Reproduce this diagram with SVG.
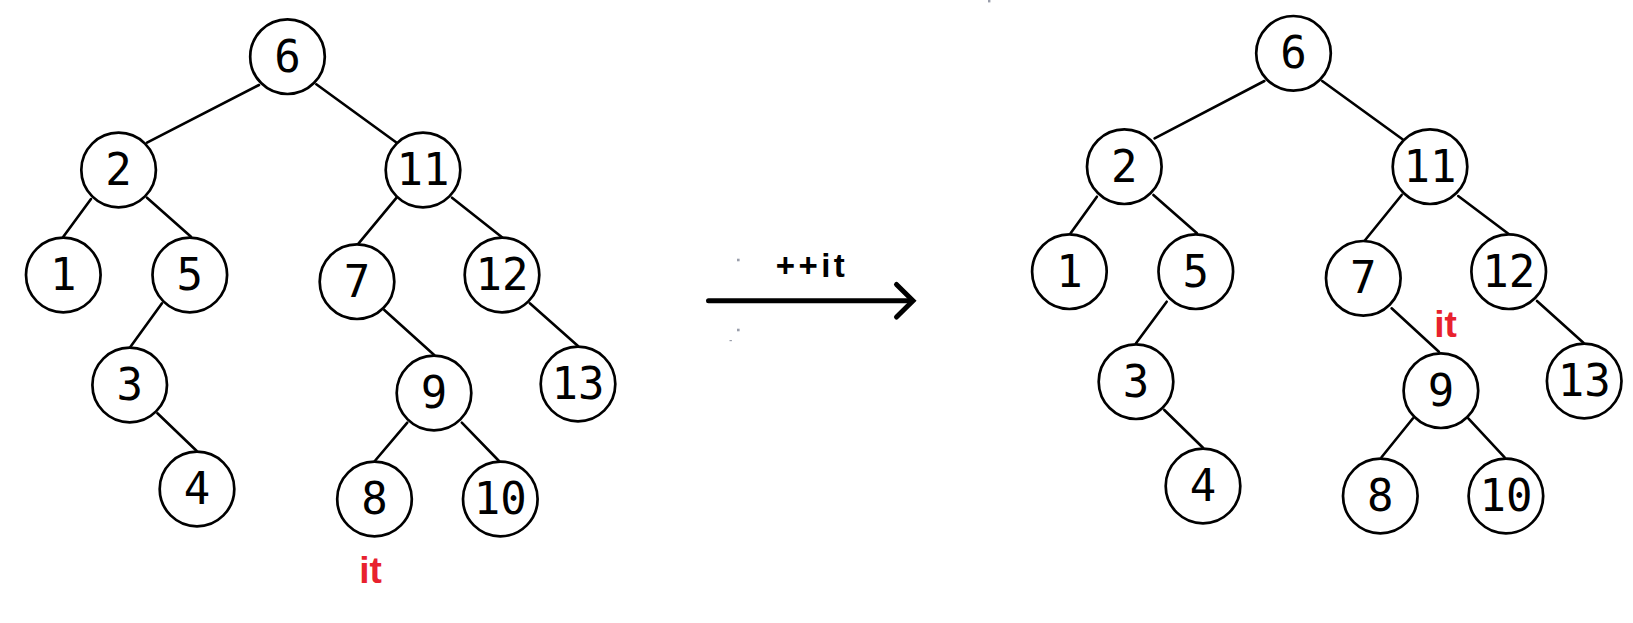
<svg xmlns="http://www.w3.org/2000/svg" width="1633" height="623" viewBox="0 0 1633 623">
<style>
.n circle{fill:#fff;stroke:#000;stroke-width:2.7}
.n text{font-family:"DejaVu Sans Mono","Liberation Mono",monospace;font-size:44px;text-anchor:middle;fill:#000}
.e line{stroke:#000;stroke-width:2.6;stroke-linecap:round}
.it{font-family:"Liberation Sans","DejaVu Sans",sans-serif;font-weight:bold;font-size:37px;fill:#e8212e;text-anchor:middle}
.dot{fill:#9a9eab}
</style>
<rect width="1633" height="623" fill="#fff"/>
<g id="connectors" class="e">
<!-- left tree -->
<line x1="259" y1="85" x2="147" y2="142.7"/>
<line x1="316.3" y1="84.3" x2="397.4" y2="143.3"/>
<line x1="91" y1="199" x2="63.3" y2="236.7"/>
<line x1="147" y1="197.7" x2="191" y2="236.7"/>
<line x1="396.6" y1="197.7" x2="357.8" y2="244.3"/>
<line x1="452" y1="197.7" x2="502" y2="237.3"/>
<line x1="162" y1="303.3" x2="130.5" y2="346.7"/>
<line x1="384.3" y1="310" x2="434.2" y2="355"/>
<line x1="529.8" y1="303.3" x2="578" y2="346"/>
<line x1="157.4" y1="413.3" x2="196.5" y2="450.7"/>
<line x1="407.3" y1="422.7" x2="374.8" y2="461"/>
<line x1="461.8" y1="422.7" x2="499" y2="461"/>
<!-- right tree -->
<line x1="1264.4" y1="81" x2="1154.6" y2="138.3"/>
<line x1="1322.2" y1="81" x2="1402.5" y2="139.3"/>
<line x1="1096.9" y1="196.7" x2="1070.6" y2="233.3"/>
<line x1="1153.4" y1="195" x2="1197" y2="233.3"/>
<line x1="1401.7" y1="195" x2="1364.6" y2="240.7"/>
<line x1="1458.2" y1="196" x2="1508.7" y2="234"/>
<line x1="1166.7" y1="301.7" x2="1136" y2="343.3"/>
<line x1="1391.6" y1="308.3" x2="1438.9" y2="351.7"/>
<line x1="1537" y1="301" x2="1583.4" y2="342.7"/>
<line x1="1164.3" y1="410" x2="1203" y2="447.7"/>
<line x1="1413" y1="418.3" x2="1381.5" y2="457.3"/>
<line x1="1468.3" y1="418.3" x2="1504.6" y2="457.3"/>
</g>
<g id="L6" class="n"><circle cx="287.5" cy="56.7" r="37.3"/><text x="287.5" y="71.7">6</text></g>
<g id="L2" class="n"><circle cx="118.6" cy="170" r="37.3"/><text x="118.6" y="185">2</text></g>
<g id="L11" class="n"><circle cx="423" cy="170" r="37.3"/><text x="423" y="185">11</text></g>
<g id="L1" class="n"><circle cx="63.3" cy="275" r="37.3"/><text x="63.3" y="290">1</text></g>
<g id="L5" class="n"><circle cx="189.8" cy="275" r="37.3"/><text x="189.8" y="290">5</text></g>
<g id="L7" class="n"><circle cx="357" cy="281.7" r="37.3"/><text x="357" y="296.7">7</text></g>
<g id="L12" class="n"><circle cx="502" cy="275" r="37.3"/><text x="502" y="290">12</text></g>
<g id="L3" class="n"><circle cx="129.7" cy="385" r="37.3"/><text x="129.7" y="400">3</text></g>
<g id="L4" class="n"><circle cx="197" cy="489" r="37.3"/><text x="197" y="504">4</text></g>
<g id="L9" class="n"><circle cx="434" cy="393" r="37.3"/><text x="434" y="408">9</text></g>
<g id="L13" class="n"><circle cx="578" cy="384" r="37.3"/><text x="578" y="399">13</text></g>
<g id="L8" class="n"><circle cx="374.5" cy="499" r="37.3"/><text x="374.5" y="514">8</text></g>
<g id="L10" class="n"><circle cx="500.3" cy="499" r="37.3"/><text x="500.3" y="514">10</text></g>
<text id="it-left" class="it" x="370.5" y="583">it</text>

<g id="R6" class="n"><circle cx="1293.5" cy="53.3" r="37.3"/><text x="1293.5" y="68.3">6</text></g>
<g id="R2" class="n"><circle cx="1124.3" cy="166.7" r="37.3"/><text x="1124.3" y="181.7">2</text></g>
<g id="R11" class="n"><circle cx="1430" cy="166.7" r="37.3"/><text x="1430" y="181.7">11</text></g>
<g id="R1" class="n"><circle cx="1069.4" cy="271.7" r="37.3"/><text x="1069.4" y="286.7">1</text></g>
<g id="R5" class="n"><circle cx="1195.8" cy="271.7" r="37.3"/><text x="1195.8" y="286.7">5</text></g>
<g id="R7" class="n"><circle cx="1363.3" cy="278.3" r="37.3"/><text x="1363.3" y="293.3">7</text></g>
<g id="R12" class="n"><circle cx="1508.7" cy="271.7" r="37.3"/><text x="1508.7" y="286.7">12</text></g>
<g id="R3" class="n"><circle cx="1136" cy="381.7" r="37.3"/><text x="1136" y="396.7">3</text></g>
<g id="R4" class="n"><circle cx="1203" cy="486" r="37.3"/><text x="1203" y="501">4</text></g>
<g id="R9" class="n"><circle cx="1440.9" cy="390.7" r="37.3"/><text x="1440.9" y="405.7">9</text></g>
<g id="R13" class="n"><circle cx="1584.2" cy="381" r="37.3"/><text x="1584.2" y="396">13</text></g>
<g id="R8" class="n"><circle cx="1380.3" cy="496" r="37.3"/><text x="1380.3" y="511">8</text></g>
<g id="R10" class="n"><circle cx="1505.9" cy="496" r="37.3"/><text x="1505.9" y="511">10</text></g>
<text id="it-right" class="it" x="1445.5" y="336.7">it</text>

<g id="arrow">
<line x1="708.5" y1="300.8" x2="911" y2="300.8" stroke="#000" stroke-width="5" stroke-linecap="round"/>
<polyline points="896.5,284.5 913,300.8 896.5,317" fill="none" stroke="#000" stroke-width="5" stroke-linecap="round" stroke-linejoin="miter"/>
<text x="812" y="276.7" font-family="'Liberation Sans','DejaVu Sans',sans-serif" font-weight="bold" font-size="33" text-anchor="middle" letter-spacing="3.5" fill="#000">++it</text>
</g>
<rect class="dot" x="737" y="258.7" width="2.6" height="2.6"/>
<rect class="dot" x="737" y="328.7" width="2.6" height="2.6"/>
<rect class="dot" x="729.5" y="340" width="2.4" height="1.2"/>
<rect class="dot" x="988" y="0" width="2.4" height="2.4"/>
</svg>
